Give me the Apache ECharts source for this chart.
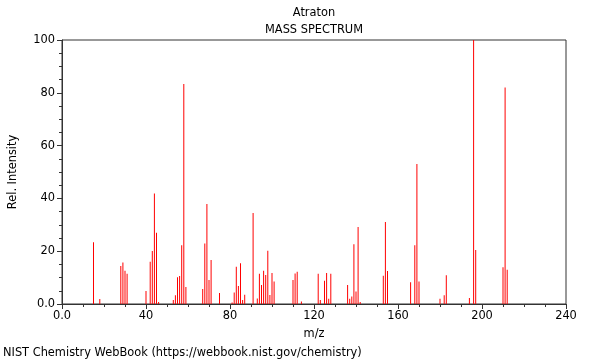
<!DOCTYPE html>
<html><head><meta charset="utf-8">
<script src="https://cdn.jsdelivr.net/npm/echarts@6/dist/echarts.min.js"></script>
<style>html,body{margin:0;padding:0;background:#fff}#c{width:600px;height:360px}</style>
</head><body><div id="c"></div>
<script>
const mz = [15,18,28,29,30,31,40,42,43,44,45,46,53,54,55,56,57,58,59,67,68,69,70,71,75,81,82,83,84,85,86,87,91,93,94,95,96,97,98,99,100,101,110,111,112,114,122,123,125,126,127,128,136,137,138,139,140,141,142,153,154,155,166,168,169,170,180,182,183,194,196,197,210,211,212];
const intensity = [23.4,1.9,14.4,15.7,12.6,11.5,4.9,16.0,20.1,41.9,27.0,0.8,1.5,3.3,10.1,10.6,22.3,83.3,6.4,5.7,22.9,37.9,9.1,16.7,4.2,0.6,4.4,14.1,6.8,15.4,1.5,3.5,34.5,2.1,11.5,7.2,12.6,11.0,20.2,3.4,11.7,8.5,9.1,11.6,12.2,0.9,11.5,1.5,8.8,11.7,2.0,11.5,7.2,2.0,2.8,22.6,4.7,29.2,0.8,10.7,31.1,12.5,8.2,22.3,53.0,8.5,2.0,3.3,10.9,2.3,100,20.5,13.9,82.0,13.0];
const titleText = 'Atraton';
const subtitleText = 'MASS SPECTRUM';
const xLabel = 'm/z';
const yLabel = 'Rel. Intensity';
const footer = 'NIST Chemistry WebBook (https://webbook.nist.gov/chemistry)';

const chart = echarts.init(document.getElementById('c'), null, {renderer:'canvas'});
const font = 'DejaVu Sans';
const axisColor = '#333';
const fs = 11.4;
chart.setOption({
  animation:false,
  textStyle:{fontFamily:font},
  graphic:[
    {type:'text', x:314, y:13, style:{text:titleText, font:fs+'px "DejaVu Sans"', fill:'#000', align:'center', verticalAlign:'middle'}},
    {type:'text', x:314, y:30, style:{text:subtitleText, font:fs+'px "DejaVu Sans"', fill:'#000', align:'center', verticalAlign:'middle'}},
    {type:'text', x:3, y:353, style:{text:footer, font:fs+'px "DejaVu Sans"', fill:'#000', align:'left', verticalAlign:'middle'}}
  ],
  grid:{left:62, right:34, top:40, bottom:56, show:true, borderColor:axisColor, borderWidth:1, backgroundColor:'transparent'},
  xAxis:{type:'value', min:0, max:240, interval:40, minorTick:{show:true, splitNumber:4, length:3, lineStyle:{color:axisColor}},
    name:xLabel, nameLocation:'middle', nameGap:25, nameTextStyle:{fontSize:fs, color:'#000', fontFamily:font},
    axisLine:{onZero:false, lineStyle:{color:axisColor}}, axisTick:{show:true, length:5, lineStyle:{color:axisColor}},
    axisLabel:{fontSize:fs, color:'#000', fontFamily:font, margin:7, formatter:v=>v===0?'0.0':String(v)},
    splitLine:{show:false}},
  yAxis:{type:'value', min:0, max:100, interval:20, minorTick:{show:true, splitNumber:4, length:3, lineStyle:{color:axisColor}},
    name:yLabel, nameLocation:'middle', nameGap:43, nameTextStyle:{fontSize:fs, color:'#000', fontFamily:font},
    axisLine:{show:true, lineStyle:{color:axisColor}}, axisTick:{show:true, length:5, lineStyle:{color:axisColor}},
    axisLabel:{fontSize:fs, color:'#000', fontFamily:font, margin:7, formatter:v=>v===0?'0.0':String(v)},
    splitLine:{show:false}},
  series:[{type:'bar', barWidth:1, itemStyle:{color:'#ff0000'}, data: mz.map((m,i)=>[m,intensity[i]])}]
});
</script></body></html>
